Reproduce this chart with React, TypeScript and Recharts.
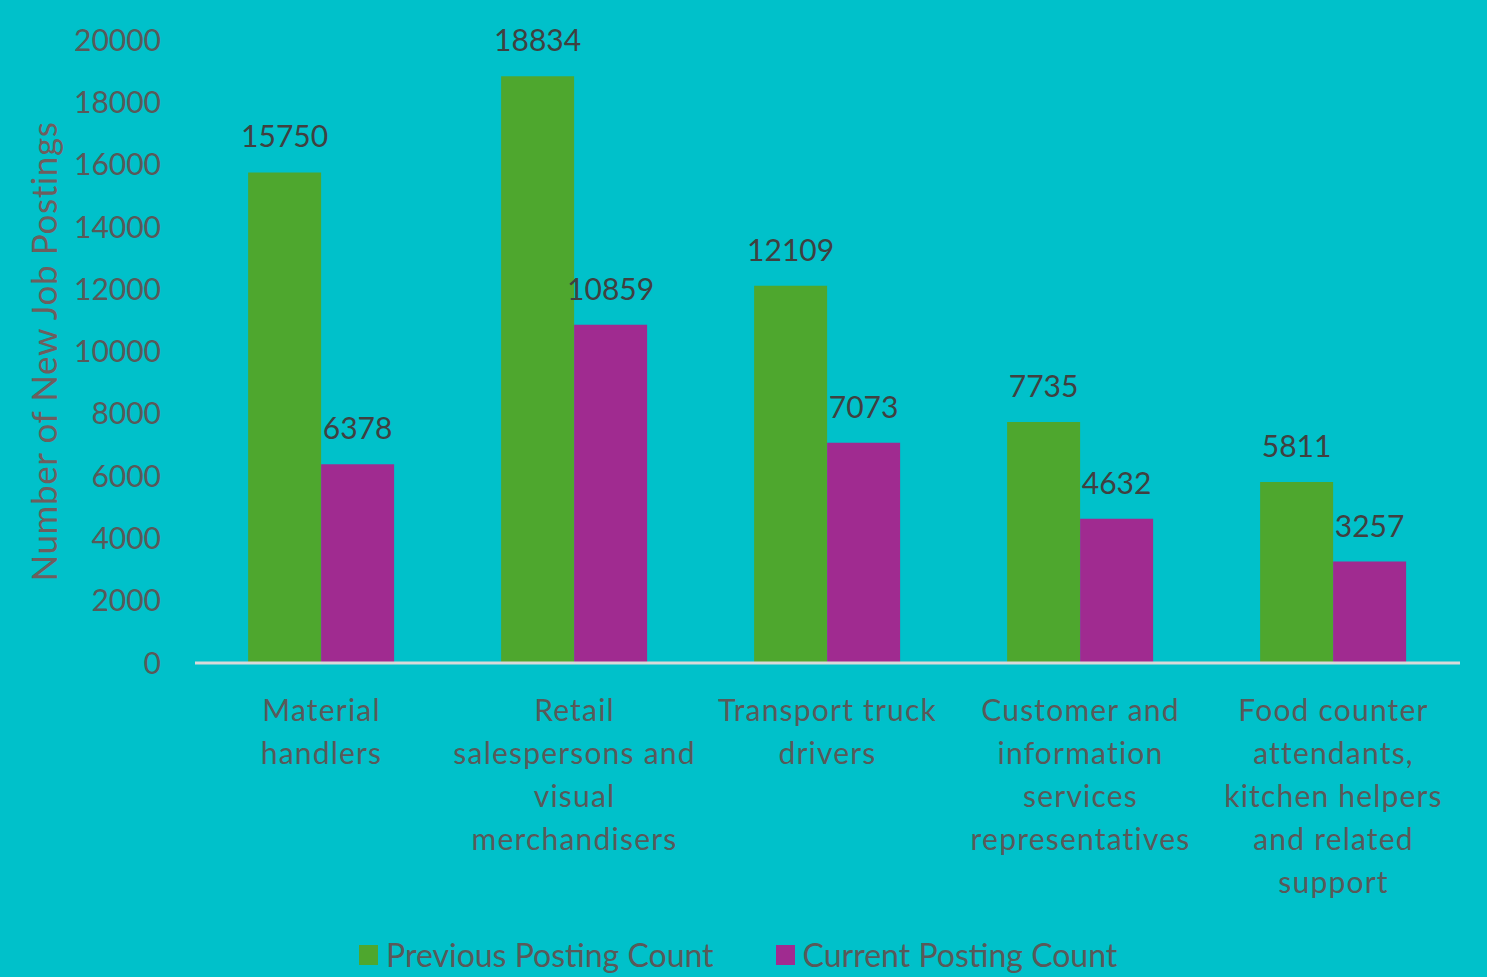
import { Bar, BarChart, LabelList, Legend, XAxis, YAxis } from "recharts";

const categories = [
  ["Material", "handlers"],
  ["Retail", "salespersons and", "visual", "merchandisers"],
  ["Transport truck", "drivers"],
  ["Customer and", "information", "services", "representatives"],
  ["Food counter", "attendants,", "kitchen helpers", "and related", "support"],
];
const previousCounts = [15750, 18834, 12109, 7735, 5811];
const currentCounts = [6378, 10859, 7073, 4632, 3257];
const yTicks = [0, 2000, 4000, 6000, 8000, 10000, 12000, 14000, 16000, 18000, 20000];

const FONT = "Lato, 'Noto Sans', sans-serif";
const BG = "#00C1CA";
const GREEN = "#4EA72E";
const MAGENTA = "#A02B90";

type Row = { name: number; previous: number; current: number };

const data: Row[] = categories.map((_, i) => ({
  name: i,
  previous: previousCounts[i],
  current: currentCounts[i],
}));

function CategoryTick(props: any) {
  const { x, y, payload } = props;
  const lines = categories[payload.value] || [];
  return (
    <g transform={`translate(${x},${y})`}>
      {lines.map((line, i) => (
        <text
          key={i}
          x={0}
          y={50 + i * 43}
          textAnchor="middle"
          fill="#595959"
          fontSize={30}
          fontFamily={FONT}
          letterSpacing={1.2}
        >
          {line}
        </text>
      ))}
    </g>
  );
}

function LegendContent() {
  const items = [
    { label: "Previous Posting Count", color: GREEN },
    { label: "Current Posting Count", color: MAGENTA },
  ];
  return (
    <div style={{ display: "flex", paddingLeft: 359, paddingTop: 10, fontFamily: FONT, fontSize: 32, color: "#595959" }}>
      {items.map((it, i) => (
        <div key={i} style={{ display: "flex", alignItems: "center", marginRight: i === 0 ? 62 : 0 }}>
          <span style={{ display: "inline-block", width: 19, height: 20, background: it.color, marginRight: 8 }} />
          <span>{it.label}</span>
        </div>
      ))}
    </div>
  );
}

export default function App() {
  return (
    <div style={{ position: "fixed", left: 0, top: 0, width: 1487, height: 977, background: BG, overflow: "hidden" }}>
      <BarChart
        width={1487}
        height={977}
        data={data}
        margin={{ top: 40, right: 27, left: 0, bottom: 0 }}
        barCategoryGap="21%"
        barGap={0}
      >
        <YAxis
          type="number"
          domain={[0, 20000]}
          ticks={yTicks}
          width={195}
          axisLine={false}
          tickLine={false}
          interval={0}
          tick={{ fill: "#595959", fontSize: 30, fontFamily: FONT, dx: -26 }}
          label={{
            value: "Number of New Job Postings",
            angle: -90,
            position: "insideLeft",
            dx: 40,
            dy: 0,
            fill: "#6E5E5E",
            fontSize: 35,
            fontFamily: FONT,
            style: { textAnchor: "middle", letterSpacing: 0.6 },
          }}
        />
        <XAxis
          dataKey="name"
          height={262}
          axisLine={{ stroke: "#D9D9D9", strokeWidth: 3 }}
          tickLine={false}
          interval={0}
          tick={<CategoryTick />}
        />
        <Legend verticalAlign="bottom" height={52} content={<LegendContent />} />
        <Bar dataKey="previous" fill={GREEN} isAnimationActive={false}>
          <LabelList dataKey="previous" position="top" offset={25} fill="#404040" fontSize={30} fontFamily={FONT} />
        </Bar>
        <Bar dataKey="current" fill={MAGENTA} isAnimationActive={false}>
          <LabelList dataKey="current" position="top" offset={25} fill="#404040" fontSize={30} fontFamily={FONT} />
        </Bar>
      </BarChart>
    </div>
  );
}
